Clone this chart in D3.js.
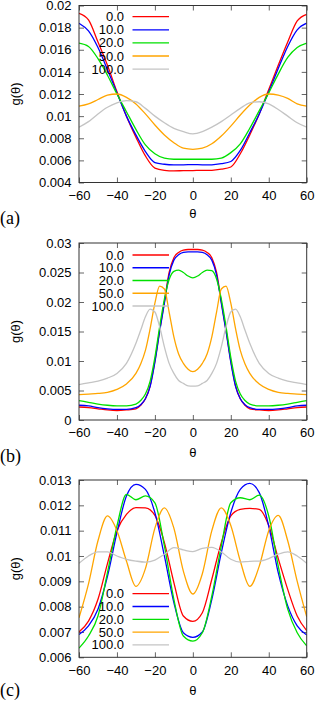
<!DOCTYPE html>
<html lang="en">
  <head>
    <meta charset="UTF-8" />
    <title>g(θ) panels</title>
    <script src="https://d3js.org/d3.v7.min.js"></script>
    <style>
      body {
        margin: 0;
        background: #fff;
      }
      svg {
        display: block;
        font-family: "Liberation Sans", Arial, sans-serif;
      }
      .tick text {
        font-size: 13px;
        fill: #000;
      }
      .tick line {
        stroke: #666;
      }
    </style>
  </head>
  <body>
    <svg id="chart" width="316" height="704"></svg>

    <script>
      const seriesNames = ["0.0", "10.0", "20.0", "50.0", "100.0"];
      const seriesColors = ["#ff0000", "#0000ff", "#00e000", "#ffa500", "#c4c4c4"];
      const thetaTicks = [-60, -40, -20, 0, 20, 40, 60];

      // panel (a)
      const thetaA = [-60, -55, -50, -45, -40, -35, -30, -25, -20, -15, -10, -5, 0,
        5, 10, 15, 20, 25, 30, 35, 40, 45, 50, 55, 60];
      const redA = [0.0193, 0.0187, 0.0167, 0.0146, 0.0122, 0.0100, 0.0081, 0.0064, 0.0053, 0.0051, 0.00505, 0.00507, 0.00508,
        0.0051, 0.0051, 0.0052, 0.0054, 0.0066, 0.0083, 0.0102, 0.0124, 0.0146, 0.0167, 0.0186, 0.0192];
      const blueA = [0.0184, 0.0177, 0.0162, 0.0142, 0.0121, 0.0100, 0.0083, 0.0068, 0.0058, 0.00565, 0.0056, 0.0056, 0.00562,
        0.0056, 0.0056, 0.0057, 0.0059, 0.0069, 0.0085, 0.0102, 0.0122, 0.0143, 0.0163, 0.0178, 0.0184];
      const greenA = [0.0166, 0.0163, 0.0152, 0.0137, 0.0120, 0.0104, 0.0088, 0.0074, 0.0066, 0.0062, 0.0061, 0.0061, 0.0061,
        0.0061, 0.0061, 0.0062, 0.0067, 0.0075, 0.0089, 0.0105, 0.0121, 0.0138, 0.0153, 0.0162, 0.0166];
      const orangeA = [0.0109, 0.0111, 0.0115, 0.0119, 0.0120, 0.0117, 0.0111, 0.0102, 0.0092, 0.0083, 0.0076, 0.0071, 0.0070,
        0.0071, 0.0075, 0.0082, 0.0091, 0.0101, 0.0110, 0.0117, 0.0120, 0.0119, 0.0116, 0.0111, 0.0109];
      const grayA = [0.0090, 0.0095, 0.0102, 0.0108, 0.0112, 0.0114, 0.0113, 0.0107, 0.0100, 0.0094, 0.0089, 0.0086, 0.0084,
        0.0086, 0.0090, 0.0095, 0.0101, 0.0107, 0.0112, 0.0113, 0.0111, 0.0106, 0.0100, 0.0094, 0.0090];
      const yTicksA = [0.004, 0.006, 0.008, 0.01, 0.012, 0.014, 0.016, 0.018, 0.02];

      // panel (b)
      const thetaB = [-60, -55, -50, -45, -40, -35, -30, -27.5, -25, -22.5, -20, -17.5, -15, -12.5, -10, -7.5, -5, -2.5, 0,
        2.5, 5, 7.5, 10, 12.5, 15, 17.5, 20, 22.5, 25, 27.5, 30, 35, 40, 45, 50, 55, 60];
      const redB = [0.0022, 0.0021, 0.0019, 0.0017, 0.0016, 0.0017, 0.0019, 0.0025, 0.0036, 0.0058, 0.0100, 0.0152, 0.0200, 0.0250, 0.0275, 0.0284, 0.0288, 0.0289, 0.0289,
        0.0289, 0.0288, 0.0284, 0.0275, 0.0250, 0.0200, 0.0152, 0.0100, 0.0058, 0.0036, 0.0025, 0.0019, 0.0017, 0.0016, 0.0017, 0.0019, 0.0021, 0.0022];
      const blueB = [0.0025, 0.0024, 0.0021, 0.0019, 0.0018, 0.0018, 0.0021, 0.0026, 0.0036, 0.0057, 0.0098, 0.0150, 0.0198, 0.0246, 0.0271, 0.0280, 0.0284, 0.0285, 0.0285,
        0.0285, 0.0284, 0.0280, 0.0271, 0.0246, 0.0198, 0.0150, 0.0098, 0.0057, 0.0036, 0.0026, 0.0021, 0.0018, 0.0018, 0.0019, 0.0021, 0.0024, 0.0025];
      const greenB = [0.0033, 0.0030, 0.0027, 0.0025, 0.0024, 0.0024, 0.0027, 0.0033, 0.0044, 0.0066, 0.0106, 0.0158, 0.0205, 0.0238, 0.0252, 0.0254, 0.0250, 0.0244, 0.0241,
        0.0244, 0.0250, 0.0254, 0.0253, 0.0239, 0.0205, 0.0158, 0.0106, 0.0066, 0.0044, 0.0033, 0.0027, 0.0024, 0.0024, 0.0025, 0.0027, 0.0030, 0.0033];
      const orangeB = [0.0043, 0.0044, 0.0045, 0.0047, 0.0052, 0.0061, 0.0079, 0.0095, 0.0118, 0.0155, 0.0198, 0.0227, 0.0222, 0.0183, 0.0141, 0.0112, 0.0096, 0.0086, 0.0082,
        0.0086, 0.0096, 0.0112, 0.0141, 0.0183, 0.0222, 0.0227, 0.0198, 0.0155, 0.0118, 0.0095, 0.0079, 0.0061, 0.0052, 0.0047, 0.0045, 0.0044, 0.0043];
      const grayB = [0.0060, 0.0063, 0.0066, 0.0071, 0.0079, 0.0096, 0.0130, 0.0152, 0.0175, 0.0188, 0.0183, 0.0158, 0.0124, 0.0096, 0.0079, 0.0067, 0.0062, 0.0058, 0.00575,
        0.0058, 0.0062, 0.0067, 0.0079, 0.0096, 0.0124, 0.0158, 0.0183, 0.0188, 0.0175, 0.0152, 0.0130, 0.0096, 0.0079, 0.0071, 0.0066, 0.0063, 0.0060];
      const yTicksB = [0, 0.005, 0.01, 0.015, 0.02, 0.025, 0.03];

      // panel (c)
      const thetaC = [-60, -55, -50, -45, -40, -35, -30, -25, -20, -15, -10, -5, 0,
        5, 10, 15, 20, 25, 30, 35, 40, 45, 50, 55, 60];
      const redC = [0.0070, 0.00743, 0.00829, 0.0097, 0.0110, 0.01164, 0.01191, 0.0119, 0.0116, 0.01053, 0.00895, 0.00763, 0.00742,
        0.00776, 0.00908, 0.01053, 0.01158, 0.01184, 0.01188, 0.01184, 0.0112, 0.0099, 0.00868, 0.00763, 0.00705];
      const blueC = [0.0069, 0.00724, 0.0079, 0.0092, 0.01092, 0.01237, 0.01283, 0.01263, 0.01171, 0.0100, 0.00816, 0.00697, 0.00679,
        0.0070, 0.00829, 0.01013, 0.01171, 0.01263, 0.01287, 0.0125, 0.01118, 0.00934, 0.00803, 0.00724, 0.00688];
      const greenC = [0.00636, 0.00684, 0.00763, 0.00934, 0.01118, 0.01243, 0.01222, 0.01237, 0.0121, 0.0104, 0.00829, 0.00684, 0.00664,
        0.00697, 0.00842, 0.0104, 0.0121, 0.0123, 0.01222, 0.0124, 0.01158, 0.0096, 0.0079, 0.00697, 0.00645];
      const orangeC = [0.00756, 0.0089, 0.0106, 0.01158, 0.0110, 0.0098, 0.0088, 0.0095, 0.0111, 0.0119, 0.0111, 0.0094, 0.0085,
        0.0093, 0.0110, 0.0119, 0.0112, 0.0098, 0.0088, 0.0096, 0.0110, 0.0116, 0.0106, 0.0090, 0.0076];
      const grayC = [0.00971, 0.0100, 0.01016, 0.01016, 0.0100, 0.00987, 0.0098, 0.00976, 0.00984, 0.01007, 0.01033, 0.01024, 0.01017,
        0.0103, 0.01034, 0.01016, 0.00987, 0.00976, 0.00979, 0.0098, 0.0099, 0.01007, 0.01016, 0.0100, 0.00971];
      const yTicksC = [0.006, 0.007, 0.008, 0.009, 0.01, 0.011, 0.012, 0.013];

      const panels = [
        { tag: "(a)", theta: thetaA, series: [redA, blueA, greenA, orangeA, grayA], yTicks: yTicksA,
          top: 5.5, bottom: 182.5, thetaY: 213, tagY: 218, legendY: 16.7, legendStep: 13.1 },
        { tag: "(b)", theta: thetaB, series: [redB, blueB, greenB, orangeB, grayB], yTicks: yTicksB,
          top: 243, bottom: 420, thetaY: 452, tagY: 456, legendY: 255, legendStep: 12.75 },
        { tag: "(c)", theta: thetaC, series: [redC, blueC, greenC, orangeC, grayC], yTicks: yTicksC,
          top: 480, bottom: 657.3, thetaY: 690, tagY: 690, legendY: 593.7, legendStep: 12.8 },
      ];

      const svg = d3.select("#chart");
      const left = 79;
      const right = 306.7;
      const tickLen = 5;

      panels.forEach((p, pi) => {
        const x = d3.scaleLinear().domain([-60, 60]).range([left, right]);
        const y = d3
          .scaleLinear()
          .domain([p.yTicks[0], p.yTicks[p.yTicks.length - 1]])
          .range([p.bottom, p.top]);

        const clipId = "clip" + pi;
        svg
          .append("clipPath")
          .attr("id", clipId)
          .append("rect")
          .attr("x", left)
          .attr("y", p.top)
          .attr("width", right - left)
          .attr("height", p.bottom - p.top);

        // Axes (ticks point inward, mirrored on top/right)
        const fmt = d3.format("~g");
        const ax = svg.append("g");
        ax.append("g")
          .attr("transform", `translate(${left},0)`)
          .call(d3.axisLeft(y).tickValues(p.yTicks).tickFormat(fmt).tickSizeInner(-tickLen).tickSizeOuter(0).tickPadding(7.5));
        ax.append("g")
          .attr("transform", `translate(${right},0)`)
          .call(d3.axisRight(y).tickValues(p.yTicks).tickFormat("").tickSizeInner(-tickLen).tickSizeOuter(0));
        ax.append("g")
          .attr("transform", `translate(0,${p.bottom})`)
          .call(d3.axisBottom(x).tickValues(thetaTicks).tickFormat(fmt).tickSizeInner(-tickLen).tickSizeOuter(0).tickPadding(8));
        ax.append("g")
          .attr("transform", `translate(0,${p.top})`)
          .call(d3.axisTop(x).tickValues(thetaTicks).tickFormat("").tickSizeInner(-tickLen).tickSizeOuter(0));
        ax.selectAll(".domain").remove();
        ax.selectAll("g").attr("font-family", null).attr("font-size", null);

        // Curves
        const curves = svg.append("g").attr("clip-path", `url(#${clipId})`);
        p.series.forEach((vals, i) => {
          const line = d3
            .line()
            .x((d, j) => x(p.theta[j]))
            .y((d) => y(d))
            .curve(d3.curveMonotoneX);
          curves
            .append("path")
            .datum(vals)
            .attr("fill", "none")
            .attr("stroke", seriesColors[i])
            .attr("stroke-width", 1.3)
            .attr("d", line);
        });

        // Frame
        svg
          .append("rect")
          .attr("x", left)
          .attr("y", p.top)
          .attr("width", right - left)
          .attr("height", p.bottom - p.top)
          .attr("fill", "none")
          .attr("stroke", "#333")
          .attr("stroke-width", 1);

        // Legend
        const lg = svg.append("g");
        seriesNames.forEach((name, i) => {
          const ly = p.legendY + i * p.legendStep;
          lg.append("text")
            .attr("x", 124)
            .attr("y", ly)
            .attr("dy", "0.35em")
            .attr("text-anchor", "end")
            .attr("font-size", 13)
            .text(name);
          lg.append("line")
            .attr("x1", 132.5)
            .attr("x2", 169)
            .attr("y1", ly)
            .attr("y2", ly)
            .attr("stroke", seriesColors[i])
            .attr("stroke-width", 1.3);
        });

        // Axis titles
        const cy = (p.top + p.bottom) / 2;
        svg
          .append("text")
          .attr("transform", `translate(15,${cy}) rotate(-90)`)
          .attr("text-anchor", "middle")
          .attr("dy", "0.35em")
          .attr("font-size", 13)
          .text("g(θ)");
        svg
          .append("text")
          .attr("x", (left + right) / 2)
          .attr("y", p.thetaY)
          .attr("dy", "0.35em")
          .attr("text-anchor", "middle")
          .attr("font-size", 13)
          .text("θ");
        svg
          .append("text")
          .attr("x", 0)
          .attr("y", p.tagY)
          .attr("dy", "0.32em")
          .attr("font-family", "'Liberation Serif', serif")
          .attr("font-size", 18)
          .text(p.tag);
      });
    </script>
  </body>
</html>
